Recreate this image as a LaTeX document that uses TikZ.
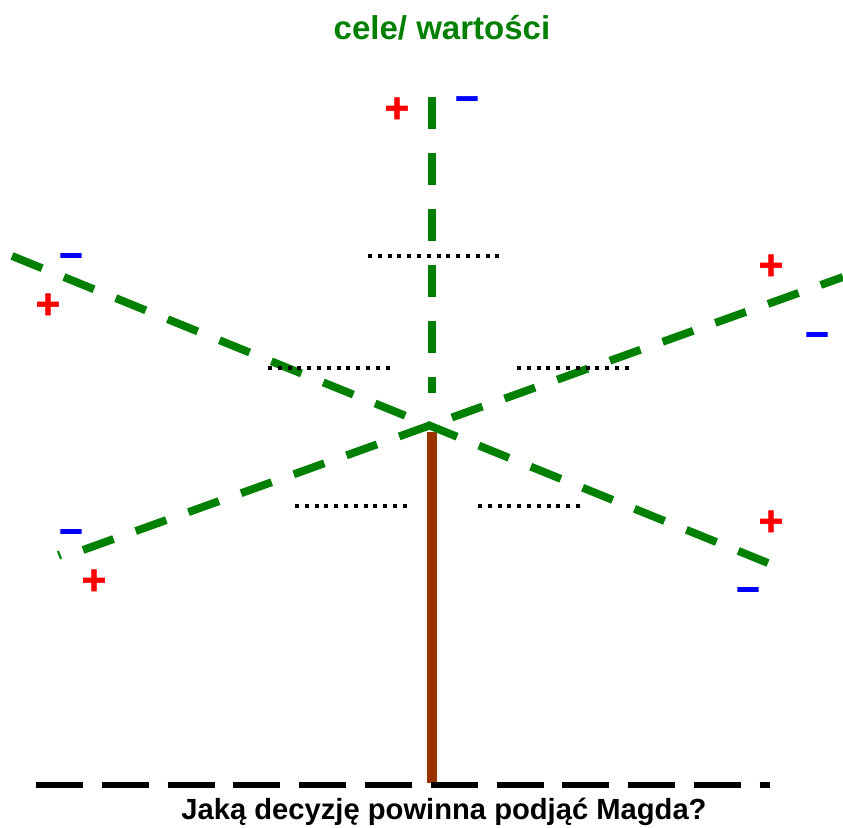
\documentclass[tikz,border=0pt]{standalone}
\usepackage{fontspec}
\setmainfont{Liberation Sans}
\newfontfamily\signfont[FakeBold=1.5]{Liberation Sans Bold}
\usetikzlibrary{positioning}
\definecolor{leafgreen}{RGB}{0,128,0}
\definecolor{barkbrown}{RGB}{153,51,0}

\begin{document}
\begin{tikzpicture}[
    x=0.02cm, y=-0.02cm,
    branch/.style={draw=leafgreen, line width=4.5pt, dash pattern=on 0.65cm off 0.47cm},
    trunk/.style={draw=barkbrown, line width=6.2pt},
    ground/.style={draw=black, line width=3.5pt, dash pattern=on 0.94cm off 0.376cm},
    blank/.style={draw=black, line width=2.3pt, dash pattern=on 0.08cm off 0.116cm},
    plussign/.style={text=red, inner sep=0pt, font=\fontsize{24}{24}\selectfont\signfont},
    minussign/.style={text=blue, inner sep=0pt, font=\fontsize{23.5}{24}\selectfont\signfont},
]
\useasboundingbox (0,0) rectangle (843,828);

% end points of the branches
\coordinate (tip) at (432,97);
\coordinate (stem) at (432,393);
\coordinate (a1) at (12,256);
\coordinate (a2) at (768,563);
\coordinate (b1) at (83,550);
\coordinate (b2) at (843,277);
\coordinate (top) at (432,432);
\coordinate (root) at (432,783);
\coordinate (gl) at (36,785);
\coordinate (gr) at (770,785);

\node[font=\fontsize{18.8}{22}\selectfont\bfseries, text=leafgreen] (goal) at (442,28) {cele/ wartości};
\node[font=\fontsize{16.6}{20}\selectfont\bfseries] (question) at (444,812) {Jaką decyzję powinna podjąć Magda?};

\draw[trunk] (top) -- (root);
\draw[ground] (gl) -- (gr);

\draw[branch] (tip) -- (stem);
\draw[branch] (a1) -- (a2);
\draw[branch] (b1) -- (b2);
\draw[leafgreen, line width=1.2pt] (58,551) -- (61,559);

% blanks to fill in
\draw[blank] (368,255.7) -- (499.4,255.7);
\draw[blank] (268,368.3) -- (389.6,368.3);
\draw[blank] (517,368.3) -- (628.8,368.3);
\draw[blank] (295,505.7) -- (406.8,505.7);
\draw[blank] (478,505.7) -- (580,505.7);

% signs
\node[plussign] (p1) at (397,110) {+};
\node[minussign] (m1) at (467,103) {–};
\node[minussign] (m2) at (71,260) {–};
\node[plussign] (p2) at (48,306) {+};
\node[plussign] (p3) at (771,267) {+};
\node[minussign] (m3) at (817,339) {–};
\node[minussign] (m4) at (71,536) {–};
\node[plussign] (p4) at (94,582) {+};
\node[plussign] (p5) at (771,523) {+};
\node[minussign] (m5) at (748,594) {–};

\end{tikzpicture}
\end{document}
